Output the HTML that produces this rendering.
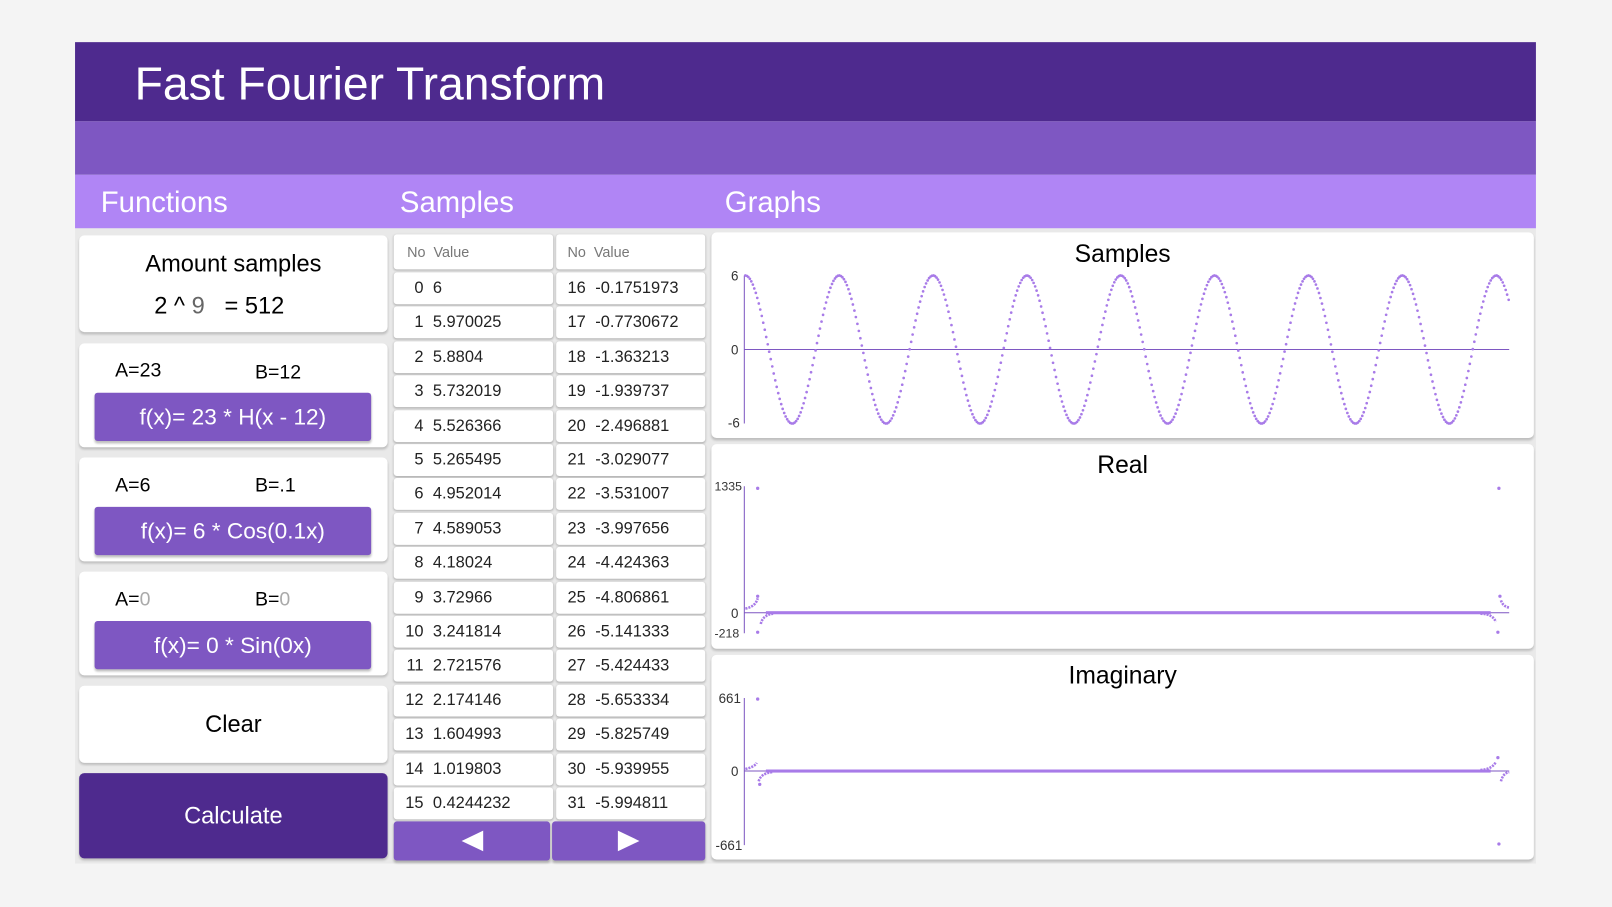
<!DOCTYPE html>
<html><head><meta charset="utf-8"><style>
html,body{margin:0;padding:0;background:#f4f4f4;width:1612px;height:907px;overflow:hidden;font-family:"Liberation Sans",sans-serif}
#w{position:absolute;left:0;top:0;width:1568px;height:882px;transform:scale(1.02806);transform-origin:0 0}
.a{position:absolute;box-sizing:border-box}
.card{position:absolute;background:#fff;border-radius:5px;box-shadow:0 2px 2px rgba(0,0,0,.18)}
.btn{position:absolute;background:#7e57c2;color:#fff;font-size:22px;text-align:center;border-radius:3px;box-shadow:0 2px 2px rgba(0,0,0,.25)}
.cell{position:absolute;background:#fff;border-radius:3px;box-shadow:0 1px 2px rgba(0,0,0,.25);font-size:16px;color:#222}
.cell span{position:absolute}
.t{position:absolute;font-size:13px;color:#333}
</style></head><body><div id="w">
<div class="a" style="left:73px;top:41px;width:1421px;height:799px;background:#e9e9e9"></div>
<div class="a" style="left:73px;top:41px;width:1421px;height:77px;background:#4e2a8e"></div>
<div class="a" style="left:131px;top:56px;color:#fff;font-size:45px">Fast Fourier Transform</div>
<div class="a" style="left:73px;top:118px;width:1421px;height:52px;background:#7e57c2"></div>
<div class="a" style="left:73px;top:170px;width:1421px;height:52px;background:#b085f5"></div>
<div class="a" style="left:98px;top:181px;color:#fff;font-size:28.5px">Functions</div>
<div class="a" style="left:389px;top:181px;color:#fff;font-size:28.5px">Samples</div>
<div class="a" style="left:705px;top:181px;color:#fff;font-size:28.5px">Graphs</div>

<div class="card" style="left:77px;top:229px;width:300px;height:94px"></div>
<div class="a" style="left:77px;top:243px;width:300px;text-align:center;font-size:23px">Amount samples</div>
<div class="a" style="left:150px;top:284px;font-size:23px">2 ^ <span style="color:#666">9</span>&nbsp;&nbsp;&nbsp;= 512</div>

<div class="card" style="left:77px;top:334px;width:300px;height:101px"></div>
<div class="a" style="left:112px;top:350px;font-size:19px">A=23</div>
<div class="a" style="left:248px;top:352px;font-size:19px">B=12</div>
<div class="btn" style="left:92px;top:382px;width:269px;height:47px;line-height:47px">f(x)= 23 * H(x - 12)</div>

<div class="card" style="left:77px;top:445px;width:300px;height:101px"></div>
<div class="a" style="left:112px;top:462px;font-size:19px">A=6</div>
<div class="a" style="left:248px;top:462px;font-size:19px">B=.1</div>
<div class="btn" style="left:92px;top:493px;width:269px;height:47px;line-height:47px">f(x)= 6 * Cos(0.1x)</div>

<div class="card" style="left:77px;top:556px;width:300px;height:101px"></div>
<div class="a" style="left:112px;top:573px;font-size:19px">A=<span style="color:#aaa">0</span></div>
<div class="a" style="left:248px;top:573px;font-size:19px">B=<span style="color:#aaa">0</span></div>
<div class="btn" style="left:92px;top:604px;width:269px;height:47px;line-height:47px">f(x)= 0 * Sin(0x)</div>

<div class="card" style="left:77px;top:667px;width:300px;height:75px;line-height:75px;text-align:center;font-size:23px">Clear</div>
<div class="card" style="left:77px;top:752px;width:300px;height:83px;background:#4e2a8e;color:#fff;line-height:83px;text-align:center;font-size:23px">Calculate</div>

<div id="tbl"></div>
<div class="btn" style="left:383px;top:799px;width:152px;height:38px"><svg width="152" height="38"><polygon points="87,9 87,29 66,19" fill="#fff"/></svg></div>
<div class="btn" style="left:537px;top:799px;width:149px;height:38px"><svg width="149" height="38"><polygon points="64,9 64,29 85,19" fill="#fff"/></svg></div>

<div class="card" style="left:692px;top:226px;width:800px;height:200px"></div>
<div class="card" style="left:692px;top:432px;width:800px;height:199px"></div>
<div class="card" style="left:692px;top:637px;width:800px;height:199px"></div>
<div class="a" style="left:692px;top:234px;width:800px;text-align:center;font-size:24px">Samples</div>
<div class="a" style="left:692px;top:439px;width:800px;text-align:center;font-size:24px">Real</div>
<div class="a" style="left:692px;top:644px;width:800px;text-align:center;font-size:24px">Imaginary</div>
<div class="t" style="left:711px;top:261px">6</div><div class="t" style="left:711px;top:333px">0</div><div class="t" style="left:708px;top:404px">-6</div>
<div class="t" style="left:695px;top:466px;font-size:12px">1335</div><div class="t" style="left:711px;top:589px">0</div><div class="t" style="left:695px;top:609px;font-size:12px">-218</div>
<div class="t" style="left:699px;top:672px">661</div><div class="t" style="left:711px;top:743px">0</div><div class="t" style="left:696px;top:815px">-661</div>
<svg class="a" id="g" style="left:0;top:0" width="1568" height="882">
<g stroke="#7e57c2" stroke-width="1">
<line x1="724" y1="268" x2="724" y2="412"/><line x1="724" y1="340" x2="1468" y2="340"/>
<line x1="724" y1="473" x2="724" y2="616"/><line x1="724" y1="596" x2="1468" y2="596"/>
<line x1="724" y1="679" x2="724" y2="822"/><line x1="724" y1="750" x2="1468" y2="750"/>
</g>
<g fill="#a87be8">
<rect x="745" y="594.5" width="705" height="3"/>
<rect x="745" y="748.5" width="705" height="3"/>
<circle cx="737" cy="475" r="1.6"/><circle cx="1458" cy="475" r="1.6"/><circle cx="737" cy="615" r="1.6"/><circle cx="1457" cy="615" r="1.6"/>
<circle cx="737" cy="580" r="1.6"/><circle cx="1459" cy="580" r="1.6"/>
<circle cx="737" cy="680" r="1.6"/><circle cx="1458" cy="821" r="1.6"/><circle cx="739" cy="763" r="1.6"/><circle cx="1457" cy="737" r="1.6"/>
<path d="M725 592 Q735 590 737 582 M740 607 Q742 598 752 597 M1440 597 Q1452 597 1455 605 M1460 584 Q1462 590 1468 591 M725 748 Q734 746 736 742 M738 760 Q740 752 752 751 M1440 749 Q1452 748 1455 741 M1460 760 Q1462 752 1468 751" stroke="#a87be8" stroke-width="2.5" fill="none" stroke-dasharray="2 1"/>
</g>
<g id="dots" fill="#a87be8"></g>
</svg>
</div>
<script>
var v1=["6","5.970025","5.8804","5.732019","5.526366","5.265495","4.952014","4.589053","4.18024","3.72966","3.241814","2.721576","2.174146","1.604993","1.019803","0.4244232"];
var v2=["-0.1751973","-0.7730672","-1.363213","-1.939737","-2.496881","-3.029077","-3.531007","-3.997656","-4.424363","-4.806861","-5.141333","-5.424433","-5.653334","-5.825749","-5.939955","-5.994811"];
var h='<div class="cell" style="left:383px;top:228px;width:155px;height:34px;color:#777;font-size:14px"><span style="left:13px;top:9px">No&nbsp; Value</span></div><div class="cell" style="left:541px;top:228px;width:145px;height:34px;color:#777;font-size:14px"><span style="left:11px;top:9px">No&nbsp; Value</span></div>';
for(var i=0;i<16;i++){var y=265+i*33.4;
h+='<div class="cell" style="left:383px;top:'+y+'px;width:155px;height:31px"><span style="right:126px;top:7px">'+i+'</span><span style="left:38px;top:7px">'+v1[i]+'</span></div>';
h+='<div class="cell" style="left:541px;top:'+y+'px;width:145px;height:31px"><span style="left:11px;top:7px">'+(i+16)+'</span><span style="left:38px;top:7px">'+v2[i]+'</span></div>';}
document.getElementById('tbl').innerHTML=h;
var s='';for(var n=0;n<512;n++){var x=725+n*1.453,y=340-72*Math.cos(0.1*n);s+='<circle cx="'+x.toFixed(1)+'" cy="'+y.toFixed(1)+'" r="1.3"/>';}
document.getElementById('dots').innerHTML=s;
</script>
</body></html>
